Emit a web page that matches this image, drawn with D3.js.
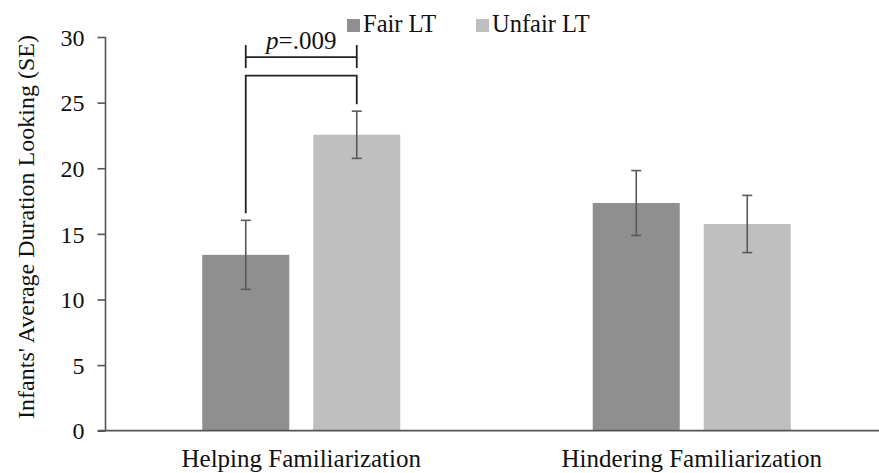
<!DOCTYPE html>
<html>
<head>
<meta charset="utf-8">
<script src="https://cdn.jsdelivr.net/npm/d3@7"></script>
</head>
<body style="margin:0;background:#fff">
<svg id="chart" width="879" height="473"></svg>
<script>
const categories = ["Helping Familiarization", "Hindering Familiarization"];
const seriesNames = ["Fair LT", "Unfair LT"];
const fairValues = [13.4, 17.35];
const unfairValues = [22.55, 15.75];
const fairSE = [2.63, 2.47];
const unfairSE = [1.8, 2.18];
const yTicks = [0, 5, 10, 15, 20, 25, 30];
const yTitle = "Infants' Average Duration Looking (SE)";
const pLabel = ".009";

const colors = { "Fair LT": "#8f8f8f", "Unfair LT": "#bfbfbf" };
const FONT = "Liberation Serif";

const svg = d3.select("#chart");
const y = d3.scaleLinear().domain([0, 30]).range([430.7, 37]);
const x0 = d3.scaleBand().domain(categories).range([106, 887]).paddingInner(0).paddingOuter(0);
const x1 = d3.scaleBand().domain(seriesNames).range([0, x0.bandwidth()]).paddingInner(0.216).paddingOuter(0.867);

const rows = [];
categories.forEach((c, i) => {
  rows.push({ cat: c, s: "Fair LT", v: fairValues[i], se: fairSE[i] });
  rows.push({ cat: c, s: "Unfair LT", v: unfairValues[i], se: unfairSE[i] });
});

// bars
svg.append("g").selectAll("rect").data(rows).join("rect")
  .attr("x", d => x0(d.cat) + x1(d.s))
  .attr("y", d => y(d.v))
  .attr("width", x1.bandwidth())
  .attr("height", d => y(0) - y(d.v))
  .attr("fill", d => colors[d.s]);

// error bars
const eb = svg.append("g").attr("stroke", "#5a5a5a").attr("stroke-width", 1.6).attr("fill", "none");
rows.forEach(d => {
  const cx = x0(d.cat) + x1(d.s) + x1.bandwidth() / 2;
  eb.append("line").attr("x1", cx).attr("x2", cx).attr("y1", y(d.v + d.se)).attr("y2", y(d.v - d.se));
  eb.append("line").attr("x1", cx - 5).attr("x2", cx + 5).attr("y1", y(d.v + d.se)).attr("y2", y(d.v + d.se));
  eb.append("line").attr("x1", cx - 5).attr("x2", cx + 5).attr("y1", y(d.v - d.se)).attr("y2", y(d.v - d.se));
});

// y axis
const yAxis = d3.axisLeft(y).tickValues(yTicks).tickSize(8).tickPadding(13);
const gy = svg.append("g").attr("transform", "translate(105.5,0)").call(yAxis)
  .attr("font-family", FONT);
gy.select(".domain").attr("stroke", "#555").attr("stroke-width", 1.6).attr("d", `M0,${y(30)}V${y(0)}`);
gy.selectAll(".tick line").attr("stroke", "#555").attr("stroke-width", 1.6);
gy.selectAll(".tick text").attr("font-size", 24).attr("fill", "#111")
  .attr("font-family", FONT).attr("dy", "0.34em");

// x axis line
svg.append("line").attr("x1", 98).attr("x2", 879).attr("y1", y(0)).attr("y2", y(0))
  .attr("stroke", "#555").attr("stroke-width", 1.8);

// category labels
svg.append("g").selectAll("text").data(categories).join("text")
  .attr("x", d => x0(d) + x0.bandwidth() / 2)
  .attr("y", 467)
  .attr("text-anchor", "middle")
  .attr("font-size", 25)
  .attr("fill", "#111")
  .attr("font-family", FONT)
  .text(d => d);

// y title
svg.append("text")
  .attr("transform", "translate(34,227) rotate(-90)")
  .attr("text-anchor", "middle")
  .attr("font-size", 24)
  .attr("fill", "#111")
  .attr("font-family", FONT)
  .text(yTitle);

// legend
const leg = svg.append("g");
const legX = [347, 476];
seriesNames.forEach((s, i) => {
  leg.append("rect").attr("x", legX[i]).attr("y", 19).attr("width", 13).attr("height", 13).attr("fill", colors[s]);
  leg.append("text").attr("x", legX[i] + 16).attr("y", 32).attr("font-size", 24.5).attr("fill", "#111")
    .attr("font-family", FONT).text(s);
});

// significance bracket
const cat0 = categories[0];
const xa = x0(cat0) + x1("Fair LT") + x1.bandwidth() / 2;
const xb = x0(cat0) + x1("Unfair LT") + x1.bandwidth() / 2;
const br = svg.append("g").attr("stroke", "#222").attr("stroke-width", 1.8).attr("fill", "none");
const lowTop = y(27.05);
br.append("path").attr("d", `M${xa},${y(fairValues[0] + fairSE[0]) - 7}V${lowTop}H${xb}V${y(unfairValues[0] + unfairSE[0]) - 7}`);
const upY = y(28.47);
br.append("line").attr("x1", xa).attr("x2", xb).attr("y1", upY).attr("y2", upY);
br.append("line").attr("x1", xa).attr("x2", xa).attr("y1", upY - 12).attr("y2", upY + 11);
br.append("line").attr("x1", xb).attr("x2", xb).attr("y1", upY - 12).attr("y2", upY + 11);

const pt = svg.append("text").attr("x", (xa + xb) / 2).attr("y", 49)
  .attr("text-anchor", "middle").attr("font-size", 25).attr("fill", "#111")
  .attr("font-family", FONT);
pt.append("tspan").attr("font-style", "italic").text("p");
pt.append("tspan").text("=" + pLabel);
</script>
</body>
</html>
